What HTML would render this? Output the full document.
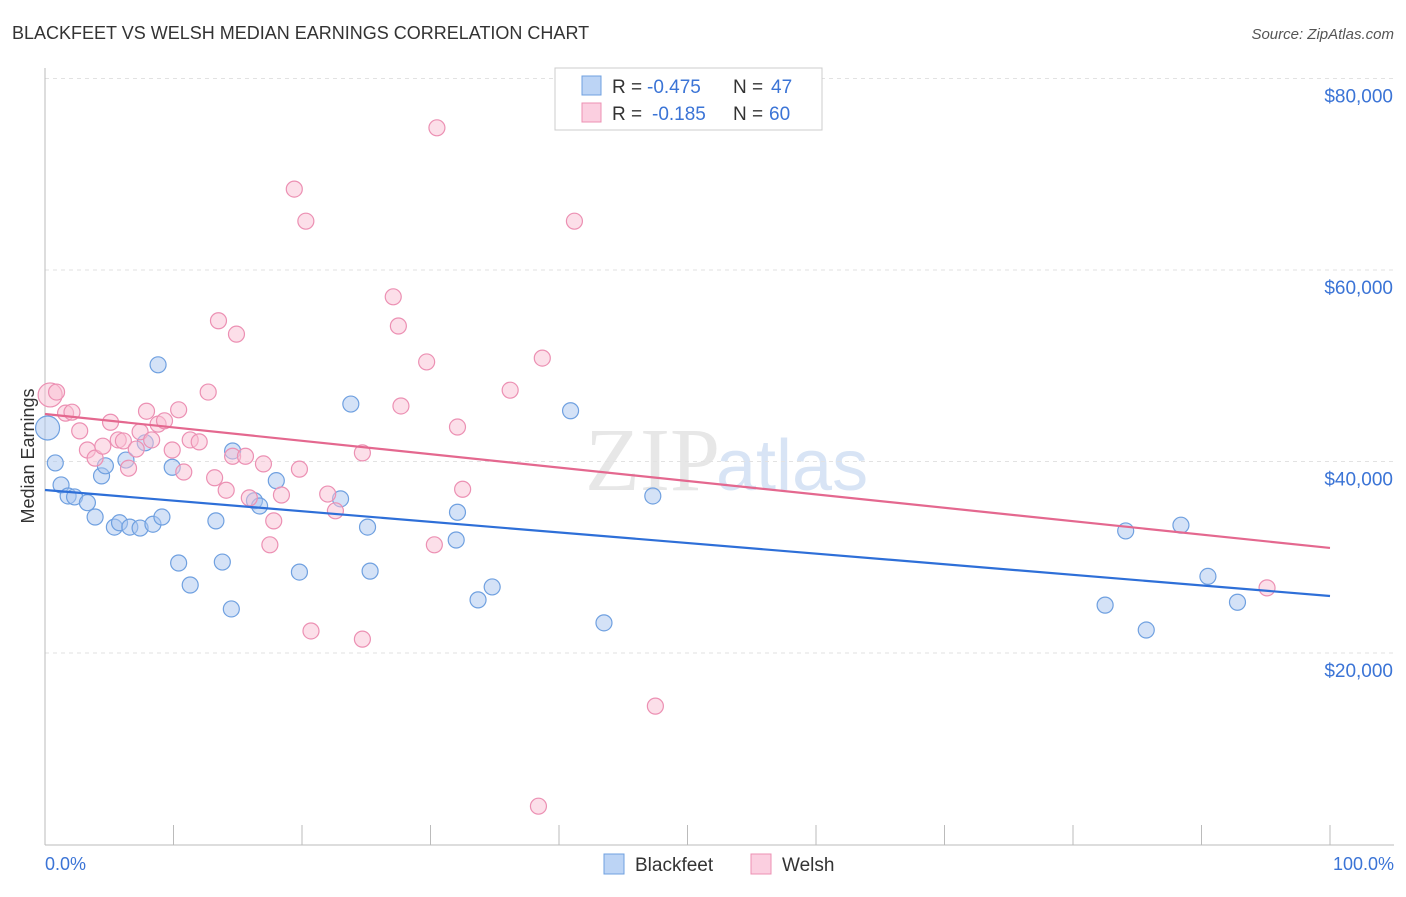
<!DOCTYPE html>
<html><head><meta charset="utf-8"><style>
body{margin:0;background:#fff;font-family:"Liberation Sans",sans-serif}
</style></head><body>
<svg width="1406" height="892" xmlns="http://www.w3.org/2000/svg" font-family="Liberation Sans, sans-serif">
<text x="12" y="39" font-size="18" fill="#333">BLACKFEET VS WELSH MEDIAN EARNINGS CORRELATION CHART</text>
<text x="1394" y="39" font-size="15" fill="#555" text-anchor="end" font-style="italic">Source: ZipAtlas.com</text>
<text x="720" y="490" font-size="90" fill="#ddd" text-anchor="end" font-family="Liberation Serif, serif" opacity="0.7">ZIP</text>
<text x="716" y="490" font-size="72" fill="#c8daf2" opacity="0.7">atlas</text>
<g id="grid"></g>
<line x1="45" y1="845" x2="1394" y2="845" stroke="#bbb"/>
<line x1="45" y1="68" x2="45" y2="845" stroke="#bbb"/>
<text transform="translate(34,456) rotate(-90)" font-size="18" fill="#333" text-anchor="middle">Median Earnings</text>
<text x="45" y="870" font-size="18" fill="#3b74d6">0.0%</text>
<text x="1394" y="870" font-size="18" fill="#3b74d6" text-anchor="end">100.0%</text>
<g id="marks"></g>
<g>
<rect x="555" y="68" width="267" height="62" fill="#fff" stroke="#ccc"/>
<rect x="582" y="76" width="19" height="19" fill="#bcd4f5" stroke="#6fa0e0"/>
<rect x="582" y="103" width="19" height="19" fill="#fbcfe0" stroke="#ec90b3"/>
<text x="612" y="93" font-size="19" fill="#333">R =</text>
<text x="647" y="93" font-size="19" fill="#3b74d6">-0.475</text>
<text x="733" y="93" font-size="19" fill="#333">N =</text>
<text x="771" y="93" font-size="19" fill="#3b74d6">47</text>
<text x="612" y="120" font-size="19" fill="#333">R =</text>
<text x="652" y="120" font-size="19" fill="#3b74d6">-0.185</text>
<text x="733" y="120" font-size="19" fill="#333">N =</text>
<text x="769" y="120" font-size="19" fill="#3b74d6">60</text>
</g>
<g>
<rect x="604" y="854" width="20" height="20" fill="#bcd4f5" stroke="#6fa0e0"/>
<text x="635" y="871" font-size="19" fill="#333">Blackfeet</text>
<rect x="751" y="854" width="20" height="20" fill="#fbcfe0" stroke="#ec90b3"/>
<text x="782" y="871" font-size="19" fill="#333">Welsh</text>
</g>
</svg>
<script>
const yTicks=[20000,40000,60000,80000];
const yTickLabels=["$20,000","$40,000","$60,000","$80,000"];
const xTicks=[0,10,20,30,40,50,60,70,80,90,100];
const blackfeetX=[0.2,0.8,1.25,1.8,2.3,3.3,3.9,4.4,4.7,5.4,5.8,6.3,6.6,7.4,7.8,8.4,8.8,9.1,9.9,10.4,11.3,13.3,13.8,14.5,14.6,16.3,16.7,18.0,19.8,23.0,23.8,25.1,25.3,32.1,32.0,33.7,34.8,40.9,43.5,47.3,82.5,84.1,85.7,88.4,90.5,92.8];
const blackfeetY=[43500,39850,37550,36400,36300,35700,34200,38500,39550,33150,33600,40150,33150,33050,41950,33450,50100,34200,39400,29400,27100,33800,29500,24600,41100,35900,35350,38000,28450,36100,46000,33150,28550,34700,31800,25550,26900,45300,23150,36400,25000,32750,22400,33350,28000,25300];
const welshX=[0.4,0.9,1.6,2.1,2.7,3.3,3.9,4.5,5.1,5.7,6.1,6.5,7.1,7.4,7.9,8.3,8.8,9.3,9.9,10.4,10.8,11.3,12.0,12.7,13.2,13.5,14.1,14.9,14.6,15.6,15.9,17.0,17.5,17.8,18.4,19.4,19.8,20.3,20.7,22.0,22.6,24.7,24.7,27.1,27.5,27.7,29.7,30.3,30.5,32.1,32.5,36.2,38.4,38.7,41.2,47.5,95.1];
const welshY=[46950,47250,45050,45150,43200,41200,40350,41600,44100,42250,42150,39300,41300,43100,45250,42250,43900,44250,41200,45400,38900,42250,42050,47250,38300,54700,37000,53300,40550,40550,36200,39750,31300,33800,36500,68450,39200,65100,22300,36600,34850,40900,21450,57200,54150,45800,50400,31300,74850,43600,37100,47450,4000,50800,65100,14450,26800];
const blackfeetTrend=[37020,25950];
const welshTrend=[44960,30970];
const sx=v=>45+v*12.85, sy=v=>844.5-v*191.5/20000;
const NS="http://www.w3.org/2000/svg";
function mk(t,a,p){const e=document.createElementNS(NS,t);for(const k in a)e.setAttribute(k,a[k]);p.appendChild(e);return e;}
const grid=document.getElementById('grid'),marks=document.getElementById('marks');
yTicks.forEach((v,i)=>{
 const l=mk('line',{x1:45,x2:1394,y1:sy(v),y2:sy(v),stroke:'#e2e2e2','stroke-dasharray':'4,4'},grid);
 
 
 const t=mk('text',{x:1393,y:sy(v)+24,'font-size':19,fill:'#3b74d6','text-anchor':'end'},grid);
 t.textContent=yTickLabels[i];
 
 
});
xTicks.forEach(v=>{
 const l=mk('line',{x1:sx(v),x2:sx(v),y1:825,y2:845,stroke:'#bbb'},grid);
 
 
});
function series(X,Y,fill,stroke,name){
 X.forEach((x,i)=>{
  const r=i===0?12:8;
  const c=mk('circle',{cx:sx(x),cy:sy(Y[i]),r:r,fill:fill,'fill-opacity':0.5,stroke:stroke,'stroke-width':1.2},marks);
  
  
 });
}
series(blackfeetX,blackfeetY,'#a9c6f0','#6fa0e0','blackfeet');
series(welshX,welshY,'#f9bfd4','#ec90b3','welsh');
const b=mk('line',{x1:sx(0),y1:sy(blackfeetTrend[0]),x2:sx(100),y2:sy(blackfeetTrend[1]),stroke:'#2e6fd8','stroke-width':2.2},marks);


const w=mk('line',{x1:sx(0),y1:sy(welshTrend[0]),x2:sx(100),y2:sy(welshTrend[1]),stroke:'#e4688f','stroke-width':2.2},marks);


</script>
</body></html>
